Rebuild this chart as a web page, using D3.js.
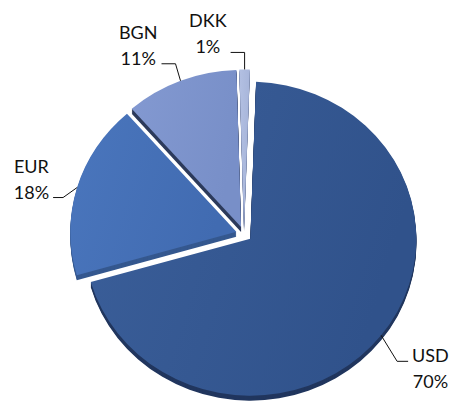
<!DOCTYPE html>
<html>
<head>
<meta charset="utf-8">
<script src="https://cdn.jsdelivr.net/npm/d3@7"></script>
<style>
  body { margin: 0; background: #fff; }
  text { font-family: Lato, "Open Sans", sans-serif; font-size: 18px; fill: #111; }
</style>
</head>
<body>
<div id="chart"></div>
<script>
// Data
const currencies = ["USD", "EUR", "BGN", "DKK"];
const shares = [70, 18, 11, 1];
const shareLabels = ["70%", "18%", "11%", "1%"];

// Look: top face gradient (left, right) and side face colour per slice
const topColors = [["#3B5F9A", "#30528B"], ["#4A76BD", "#416BB1"], ["#8399D1", "#788FC8"], ["#B3C0E2", "#A7B5DA"]];
const sideColors = ["#21365E", "#35588F", "#2C3A5B", "#6E7C9F"];

// Leader lines: elbow offset from the arc point, horizontal run, and which text line sits on it
const leaders = [
    {dx: 16, dy: 26, run: 11, line: 0},
    {dx: -14, dy: 10, run: -10, line: 1},
    {dx: -5, dy: -17, run: -14, line: 1},
    {dx: 0, dy: -17, run: -14, line: 1}
];

const W = 449, H = 401;
const cx = 244, cy = 234;          // pie centre
const rx = 166, ry = 157;          // tilted pie -> slightly squashed ellipse
const explode = 8, depth = 5;
const startAngle = 2 * Math.PI / 180;
const lineGap = 26;

const svg = d3.select("#chart")
    .append("svg")
    .attr("width", W)
    .attr("height", H);

const defs = svg.append("defs");
topColors.forEach((c, i) => {
    const g = defs.append("linearGradient")
        .attr("id", "grad" + i)
        .attr("x1", 0).attr("y1", 0)
        .attr("x2", 1).attr("y2", 0.3);
    g.append("stop").attr("offset", "0%").attr("stop-color", c[0]);
    g.append("stop").attr("offset", "100%").attr("stop-color", c[1]);
});

const pie = d3.pie()
    .value(d => d)
    .sort(null)
    .startAngle(startAngle)
    .endAngle(startAngle + 2 * Math.PI);

const arcs = pie(shares);
const arc = d3.arc().innerRadius(0).outerRadius(ry);
const sx = rx / ry;

// offset of each exploded slice (along its bisector, squashed like the pie)
arcs.forEach(d => {
    const mid = (d.startAngle + d.endAngle) / 2;
    d.mid = mid;
    d.ox = cx + explode * Math.sin(mid);
    d.oy = cy - explode * Math.cos(mid) * (ry / rx);
});

// side faces first
const sides = svg.append("g");
arcs.forEach((d, i) => {
    for (let k = depth; k >= 1; k--) {
        sides.append("path")
            .attr("d", arc(d))
            .attr("transform", `translate(${d.ox},${d.oy + k}) scale(${sx},1)`)
            .attr("fill", sideColors[i]);
    }
});

// top faces
svg.append("g")
    .selectAll("path")
    .data(arcs)
    .join("path")
    .attr("d", arc)
    .attr("transform", d => `translate(${d.ox},${d.oy}) scale(${sx},1)`)
    .attr("fill", (d, i) => `url(#grad${i})`);

// labels with leader lines
const labelG = svg.append("g");
arcs.forEach((d, i) => {
    const L = leaders[i];
    const p0 = [d.ox + rx * Math.sin(d.mid), d.oy - ry * Math.cos(d.mid)];
    const p1 = [p0[0] + L.dx, p0[1] + L.dy];
    const p2 = [p1[0] + L.run, p1[1]];

    labelG.append("path")
        .attr("d", d3.line()([p0, p1, p2]))
        .attr("fill", "none")
        .attr("stroke", "#111")
        .attr("stroke-width", 1);

    const base = p2[1] + 1 - L.line * lineGap;
    const t = labelG.append("text").attr("text-anchor", "middle");
    const lines = [currencies[i], shareLabels[i]];
    const spans = lines.map((s, j) => t.append("tspan").attr("x", 0).attr("y", base + j * lineGap).text(s));

    const w = d3.max(spans, s => s.node().getComputedTextLength());
    const side = L.run > 0 ? 1 : -1;
    spans.forEach(s => s.attr("x", p2[0] + side * (4 + w / 2)));
});
</script>
</body>
</html>
